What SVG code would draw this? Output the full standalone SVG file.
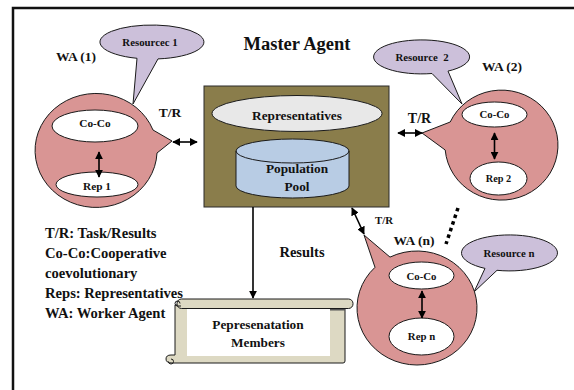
<svg xmlns="http://www.w3.org/2000/svg" width="574" height="390" viewBox="0 0 574 390">
  <defs>
    <marker id="head" viewBox="0 0 10 10" refX="9" refY="5" markerWidth="8" markerHeight="8" markerUnits="userSpaceOnUse" orient="auto-start-reverse">
      <path d="M0,0 L10,5 L0,10 Z" fill="#000"/>
    </marker>
    <style>
      text { font-family: "Liberation Serif", "Times New Roman", serif; font-weight: bold; fill: #111; }
      .mid { text-anchor: middle; }
      .agent { fill: #d99594; stroke: #1a1a1a; stroke-width: 1; }
      .callout { fill: #ccc0da; stroke: #1a1a1a; stroke-width: 1; }
      .inner { fill: #ffffff; stroke: #1a1a1a; stroke-width: 1; }
      .link { stroke: #000; stroke-width: 1.6; fill: none; }
      .both { marker-start: url(#head); marker-end: url(#head); }
      .one { marker-end: url(#head); }
    </style>
  </defs>

  <rect x="0" y="0" width="574" height="390" fill="#fff"/>
  <!-- outer frame (continues past the right and bottom edges) -->
  <rect x="13" y="8" width="600" height="420" fill="none" stroke="#111" stroke-width="2.5"/>

  <text x="297" y="50" class="mid" font-size="18.5">Master Agent</text>

  <!-- master agent -->
  <g id="master">
    <rect x="204" y="86" width="185" height="121" fill="#8a7d4b" stroke="#2a2a2a" stroke-width="1"/>
    <g id="representatives">
      <ellipse cx="297" cy="113.5" rx="85" ry="18" fill="#e8e8e8" stroke="#1a1a1a" stroke-width="1"/>
      <text x="297" y="120" class="mid" font-size="13.3">Representatives</text>
    </g>
    <g id="population-pool">
      <path d="M236,151 L236,186 A56.5,12 0 0 0 349,186 L349,151 A56.5,12 0 0 0 236,151 Z" fill="#b8cce4" stroke="#1a1a1a" stroke-width="1"/>
      <path d="M236,151 A56.5,12 0 0 0 349,151" fill="none" stroke="#1a1a1a" stroke-width="1"/>
      <text x="297" y="173" class="mid" font-size="13.3">Population</text>
      <text x="297" y="191" class="mid" font-size="13.3">Pool</text>
    </g>
  </g>

  <!-- worker agent 1 -->
  <g id="wa1">
    <text x="76" y="61" class="mid" font-size="13.5">WA (1)</text>
    <g id="resource1">
      <path class="callout" d="M137,58.3 L133,104 L158,58.9 A52,17 0 1 0 137,58.3 Z"/>
      <text x="150" y="46" class="mid" font-size="10.8">Resourcec 1</text>
    </g>
    <path class="agent" d="M153,130 L172,141 L157,153 A61,57 0 1 1 153,130 Z"/>
    <ellipse class="inner" cx="95" cy="126" rx="43" ry="16"/>
    <text x="95" y="127" class="mid" font-size="11.3">Co-Co</text>
    <ellipse class="inner" cx="97" cy="184.5" rx="41" ry="12.5"/>
    <text x="97" y="190" class="mid" font-size="11.3">Rep 1</text>
    <text x="170" y="117" class="mid" font-size="13.5">T/R</text>
  </g>

  <!-- worker agent 2 -->
  <g id="wa2">
    <text x="502" y="71" class="mid" font-size="13.5">WA (2)</text>
    <g id="resource2">
      <path class="callout" d="M432,73.5 L462,104 L448,71.1 A48,17 0 1 0 432,73.5 Z"/>
      <text x="422" y="61" class="mid" font-size="10.8" xml:space="preserve">Resource  2</text>
    </g>
    <path class="agent" d="M450.2,122 L422,133 L445.2,150 A56.5,55 0 1 0 450.2,122 Z"/>
    <ellipse class="inner" cx="494.5" cy="114.5" rx="32.5" ry="12.5"/>
    <text x="494.5" y="118" class="mid" font-size="10.8">Co-Co</text>
    <ellipse class="inner" cx="498.5" cy="178.5" rx="28.5" ry="16.5"/>
    <text x="498.5" y="182" class="mid" font-size="10.3">Rep 2</text>
    <text x="419.5" y="123" class="mid" font-size="14">T/R</text>
  </g>

  <!-- worker agent n -->
  <g id="wan">
    <text x="414" y="245" class="mid" font-size="13.5">WA (n)</text>
    <g id="resourcen">
      <path class="callout" d="M485,268.4 L474,292 L497,270.3 A48,18 0 1 0 485,268.4 Z"/>
      <text x="509" y="257" class="mid" font-size="10.8">Resource n</text>
    </g>
    <path class="agent" d="M390,257.1 L364,235 L375,267.3 A60,57 0 1 0 390,257.1 Z"/>
    <ellipse class="inner" cx="421.5" cy="275.5" rx="32.5" ry="13.5"/>
    <text x="421.5" y="280" class="mid" font-size="10.8">Co-Co</text>
    <ellipse class="inner" cx="421.5" cy="336.5" rx="32.5" ry="18.5"/>
    <text x="421.5" y="340" class="mid" font-size="10.8">Rep n</text>
    <text x="384" y="224" class="mid" font-size="10.8">T/R</text>
  </g>

  <!-- representation members scroll -->
  <g id="members">
    <path d="M175,305 L345,305 L345,361 Q345,363 343,363 L172,363 Q166,363 166,359 Q166,355 171,355 L175,355 Z" fill="#ddd9c3" stroke="#1a1a1a" stroke-width="1"/>
    <rect x="330" y="308" width="15" height="2.5" fill="#555"/>
    <rect x="177" y="299" width="176" height="9.5" rx="4.5" fill="#ddd9c3" stroke="#1a1a1a" stroke-width="1"/>
    <path d="M180,303.5 A2.5,2.5 0 1 0 177.5,306 L181,306" fill="none" stroke="#1a1a1a" stroke-width="1"/>
    <path d="M171,359 A2.5,2.5 0 1 1 168.5,361.5" fill="none" stroke="#1a1a1a" stroke-width="1"/>
    <rect x="187" y="309" width="143" height="47" fill="#ffffff"/>
    <text x="258" y="329" class="mid" font-size="13.3">Pepresenatation</text>
    <text x="258" y="347" class="mid" font-size="13.3">Members</text>
  </g>

  <!-- legend -->
  <g id="legend">
    <text x="45" y="238" font-size="14.6">T/R: Task/Results</text>
    <text x="45" y="258" font-size="14.6">Co-Co:Cooperative</text>
    <text x="45" y="278" font-size="14.6">coevolutionary</text>
    <text x="45" y="298" font-size="14.6">Reps: Representatives</text>
    <text x="45" y="318" font-size="14.6">WA: Worker Agent</text>
  </g>

  <!-- connectors -->
  <g id="connectors">
    <line class="link both" x1="173" y1="142" x2="197" y2="142"/>
    <line class="link both" x1="398" y1="133" x2="422" y2="133"/>
    <line class="link both" x1="352" y1="208" x2="364" y2="234"/>
    <line class="link both" x1="99" y1="152" x2="99" y2="177"/>
    <line class="link both" x1="494.5" y1="133" x2="494.5" y2="159"/>
    <line class="link both" x1="422" y1="291" x2="422" y2="318"/>
    <line class="link one" x1="253" y1="207" x2="253" y2="298" stroke-width="1.2"/>
    <text x="302" y="257" class="mid" font-size="14.5">Results</text>
    <line x1="458" y1="208" x2="446" y2="244" stroke="#000" stroke-width="3.5" stroke-dasharray="3.5 3.5"/>
  </g>
</svg>
